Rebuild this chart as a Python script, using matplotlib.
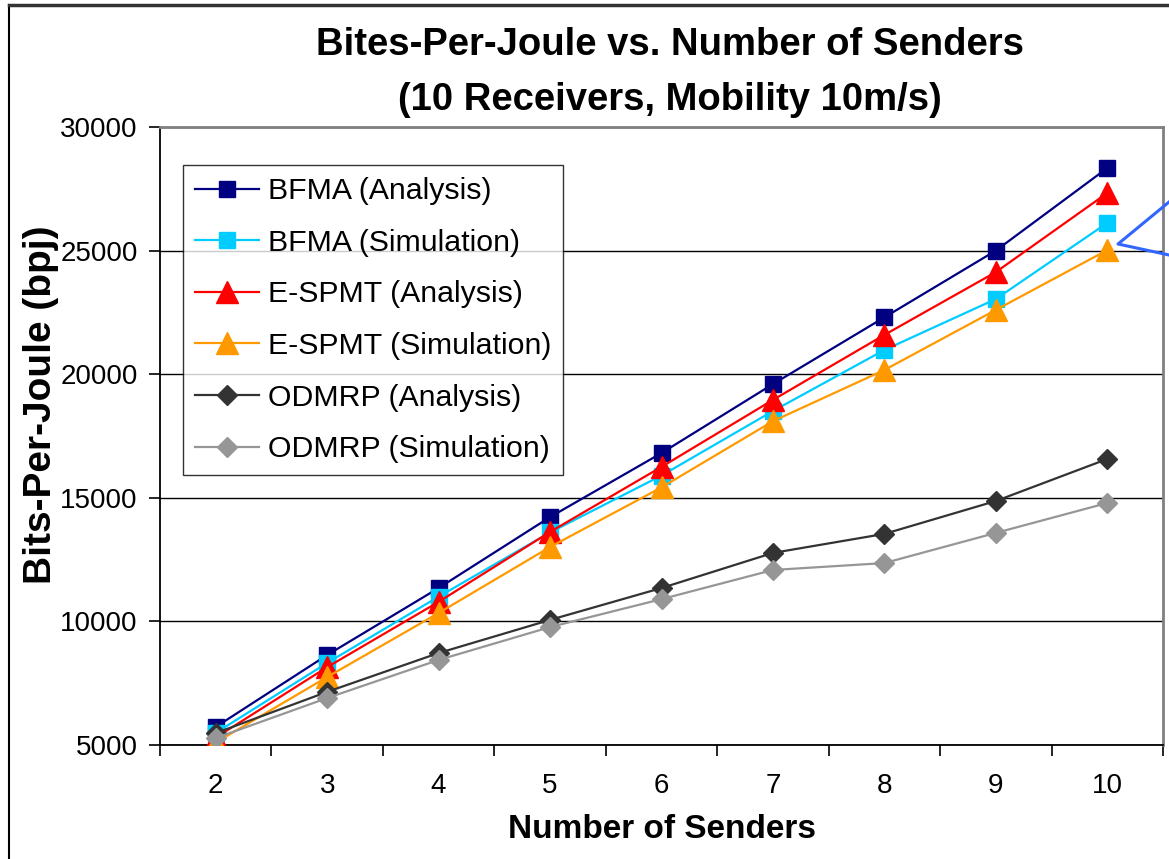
import matplotlib
matplotlib.use("Agg")
import matplotlib.pyplot as plt
from matplotlib.lines import Line2D

# Datos
senders = [2, 3, 4, 5, 6, 7, 8, 9, 10]
bfma_analysis = [5730, 8640, 11350, 14220, 16810, 19600, 22300, 25000, 28340]
bfma_simulation = [5490, 8320, 11000, 13600, 15900, 18510, 20980, 23040, 26120]
espmt_analysis = [5300, 8150, 10790, 13620, 16250, 18960, 21590, 24130, 27330]
espmt_simulation = [5100, 7750, 10340, 13010, 15420, 18100, 20170, 22600, 25020]
odmrp_analysis = [5480, 7150, 8720, 10060, 11350, 12770, 13540, 14870, 16570]
odmrp_simulation = [5280, 6900, 8440, 9770, 10900, 12080, 12360, 13580, 14790]

labels = ["BFMA (Analysis)", "BFMA (Simulation)", "E-SPMT (Analysis)",
          "E-SPMT (Simulation)", "ODMRP (Analysis)", "ODMRP (Simulation)"]
yticks = [5000, 10000, 15000, 20000, 25000, 30000]

plt.rcParams['font.family'] = ['Liberation Sans', 'DejaVu Sans']

fig = plt.figure(figsize=(11.69, 8.59), dpi=100)
ax = fig.add_axes([160 / 1169, 1 - 745 / 859, (1163 - 160) / 1169, (745 - 127) / 859])

# Estilos de cada serie: color, marcador, tamaño
series = [
    (bfma_analysis, "#000080", "s", 11.5),
    (bfma_simulation, "#00CCFF", "s", 11.5),
    (espmt_analysis, "#FF0000", "^", 15.5),
    (espmt_simulation, "#FF9900", "^", 15.5),
    (odmrp_analysis, "#333333", "D", 10.5),
    (odmrp_simulation, "#969696", "D", 10.5),
]

for (vals, color, marker, ms), lab in zip(series, labels):
    ax.plot(senders, vals, color=color, marker=marker, markersize=ms,
            markeredgecolor=color, linewidth=1.6, label=lab, zorder=3)

ax.set_xlim(1.5, 10.5)
ax.set_ylim(5000, 30000)
ax.set_yticks(yticks)
ax.set_yticklabels([str(v) for v in yticks], fontsize=20)
ax.set_xticks(senders)
ax.set_xticklabels([str(s) for s in senders], fontsize=20)
ax.set_xticks([s + 0.5 for s in [1] + senders], minor=True)
ax.tick_params(axis='x', which='major', length=0, pad=20)
ax.tick_params(axis='x', which='minor', length=8, width=1.2, direction='out')
ax.tick_params(axis='y', length=8, width=1.2, direction='out', pad=8)

ax.grid(axis='y', color='black', linewidth=1.0)
ax.set_axisbelow(True)
ax.spines['left'].set_color('black')
ax.spines['bottom'].set_color('black')
ax.spines['left'].set_linewidth(1.3)
ax.spines['bottom'].set_linewidth(1.3)
ax.spines['top'].set_color('#808080')
ax.spines['right'].set_color('#808080')
ax.spines['top'].set_linewidth(2)
ax.spines['right'].set_linewidth(2)

leg = ax.legend(loc='upper left', bbox_to_anchor=(183 / 1169, 1 - 165 / 859),
                bbox_transform=fig.transFigure, fontsize=21.8, frameon=True,
                fancybox=False, edgecolor='black', handlelength=2.1,
                labelspacing=0.78, borderpad=0.4, handletextpad=0.3,
                borderaxespad=0)
leg.get_frame().set_linewidth(1.0)
leg.set_zorder(5)

fig.text(670 / 1169, 1 - 45 / 859, "Bites-Per-Joule vs. Number of Senders",
         ha='center', va='center', fontsize=27.5, fontweight='bold')
fig.text(670 / 1169, 1 - 100 / 859, "(10 Receivers, Mobility 10m/s)",
         ha='center', va='center', fontsize=27.5, fontweight='bold')
fig.text(662 / 1169, 1 - 830 / 859, "Number of Senders", ha='center', va='center',
         fontsize=24, fontweight='bold')
fig.text(41 / 1169, 1 - 405 / 859, "Bits-Per-Joule (bpj)", ha='center', va='center',
         fontsize=28, fontweight='bold', rotation=90)

# Borde de la figura (arriba e izquierda) y la llamada azul cortada a la derecha
fig.add_artist(Line2D([9 / 1169, 9 / 1169], [0, 1 - 5 / 859], transform=fig.transFigure,
                      color='black', linewidth=1.5))
fig.add_artist(Line2D([9 / 1169, 1], [1 - 5 / 859, 1 - 5 / 859], transform=fig.transFigure,
                      color='#333333', linewidth=2.5))
fig.add_artist(Line2D([1169 / 1169, 1118 / 1169, 1169 / 1169],
                      [1 - 202 / 859, 1 - 244 / 859, 1 - 255 / 859],
                      transform=fig.transFigure, color='#3366FF', linewidth=2.2))

fig.savefig("out.png", dpi=100)
